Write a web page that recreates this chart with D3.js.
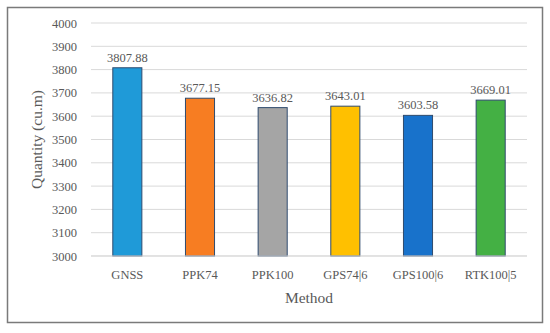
<!DOCTYPE html>
<html>
<head>
<meta charset="utf-8">
<script src="https://cdn.jsdelivr.net/npm/d3@7"></script>
<style>
    body { margin: 0; background: #fff; }
    svg text { font-family: "Liberation Serif", "DejaVu Serif", serif; fill: #595959; }
</style>
</head>
<body>
<svg id="chart"></svg>
<script>
// Chart data
let methods = ["GNSS", "PPK74", "PPK100", "GPS74|6", "GPS100|6", "RTK100|5"];
let quantities = [3807.88, 3677.15, 3636.82, 3643.01, 3603.58, 3669.01];
let barColors = ["#1f9ad8", "#f77d22", "#a5a5a5", "#ffc000", "#1872cb", "#44b044"];
let yTicks = [3000, 3100, 3200, 3300, 3400, 3500, 3600, 3700, 3800, 3900, 4000];

let width = 550;
let height = 333;
let margin = { top: 23, right: 23, bottom: 77, left: 91 };

let svg = d3.select("#chart")
    .attr("width", width)
    .attr("height", height);

// Frame round the chart
svg.append("rect")
    .attr("x", 7.5)
    .attr("y", 7.5)
    .attr("width", 535)
    .attr("height", 315)
    .attr("fill", "#fff")
    .attr("stroke", "#7a7a7a")
    .attr("stroke-width", 1.5);

let x = d3.scaleBand()
    .domain(methods)
    .range([margin.left, width - margin.right])
    .paddingInner(0.6)
    .paddingOuter(0.3);

let y = d3.scaleLinear()
    .domain([3000, 4000])
    .range([height - margin.bottom, margin.top]);

// Gridlines
svg.append("g")
    .selectAll("line")
    .data(yTicks)
    .enter()
    .append("line")
    .attr("x1", margin.left)
    .attr("x2", width - margin.right)
    .attr("y1", (d) => y(d))
    .attr("y2", (d) => y(d))
    .attr("stroke", "#d9d9d9")
    .attr("stroke-width", 1);

// Y tick labels
let yAxis = svg.append("g")
    .attr("transform", `translate(${margin.left},0)`)
    .call(d3.axisLeft(y).tickValues(yTicks).tickSize(0).tickPadding(14).tickFormat(d3.format("d")));
yAxis.select(".domain").remove();
yAxis.selectAll("text").style("font-size", "12.5px").attr("fill", "#595959");

// Bars
let data = methods.map((m, i) => ({ method: m, value: quantities[i], color: barColors[i] }));

svg.append("g")
    .selectAll("rect")
    .data(data)
    .enter()
    .append("rect")
    .attr("x", (d) => x(d.method))
    .attr("y", (d) => y(d.value))
    .attr("width", x.bandwidth())
    .attr("height", (d) => y(3000) - y(d.value))
    .attr("fill", (d) => d.color)
    .attr("stroke", "#2f4b6e")
    .attr("stroke-width", 1);

// Value labels
svg.append("g")
    .selectAll("text")
    .data(data)
    .enter()
    .append("text")
    .attr("x", (d) => x(d.method) + x.bandwidth() / 2)
    .attr("y", (d) => y(d.value) - 6)
    .attr("text-anchor", "middle")
    .style("font-size", "12.5px")
    .text((d) => d.value.toFixed(2));

// X axis line and labels
svg.append("line")
    .attr("x1", margin.left)
    .attr("x2", width - margin.right)
    .attr("y1", y(3000))
    .attr("y2", y(3000))
    .attr("stroke", "#d9d9d9");

let xAxis = svg.append("g")
    .attr("transform", `translate(0,${y(3000)})`)
    .call(d3.axisBottom(x).tickSize(0).tickPadding(14));
xAxis.select(".domain").remove();
xAxis.selectAll("text").style("font-size", "12.5px").attr("fill", "#595959");

// Axis titles
svg.append("text")
    .attr("x", (margin.left + width - margin.right) / 2)
    .attr("y", 303)
    .attr("text-anchor", "middle")
    .style("font-size", "15.5px")
    .text("Method");

svg.append("text")
    .attr("transform", `translate(42,${(margin.top + height - margin.bottom) / 2}) rotate(-90)`)
    .attr("text-anchor", "middle")
    .style("font-size", "15.5px")
    .text("Quantity (cu.m)");
</script>
</body>
</html>
